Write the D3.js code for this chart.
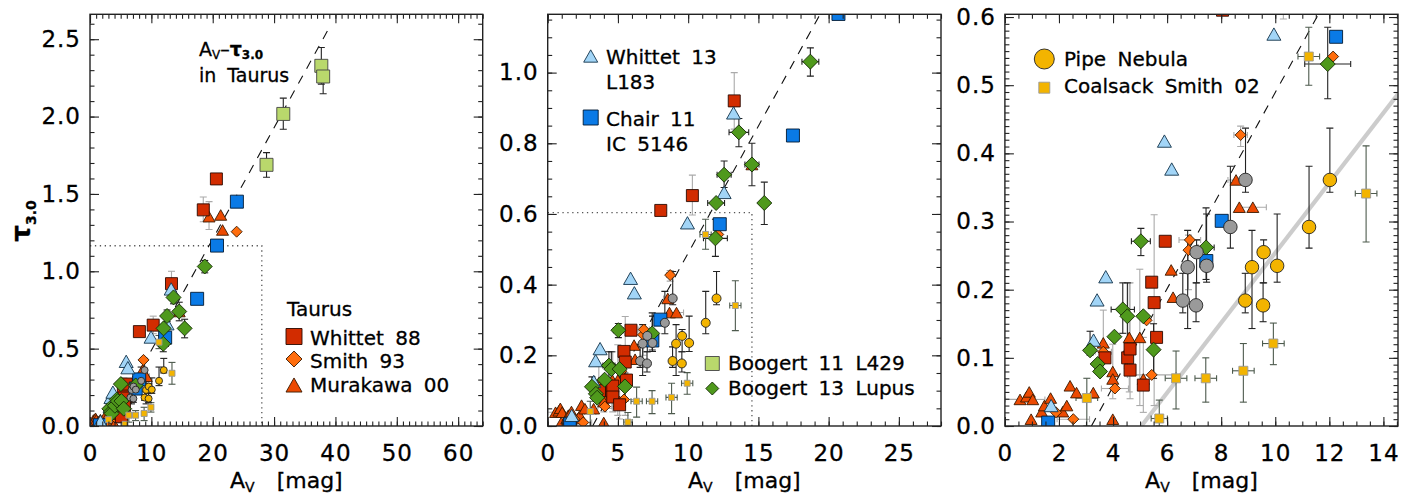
<!DOCTYPE html>
<html><head><meta charset="utf-8">
<script src="https://cdn.jsdelivr.net/npm/d3@7"></script>
<style>
body{margin:0;background:#fff}
text{font-family:'DejaVu Sans',sans-serif;fill:#000;stroke:#000;stroke-width:0.3px}
</style>
</head><body>
<svg id="c" width="1413" height="499"></svg>
<script>
// ---------------- DATA: rows are [Av, tau, tauLow, tauHigh, AvErr] ----------------
const whittet88 = [
  [3.70,0.100],[4.54,0.100],[4.63,0.113,0.04,0.21],[4.63,0.082],[5.12,0.060,0.02,0.13],
  [5.43,0.211],[5.52,0.181,0.03,0.31],[5.61,0.130],[5.93,0.271],[8.05,0.610],
  [10.30,0.652,0.597,0.710],[13.28,0.920,0.840,1.000],[18.46,1.397,1.320,1.480],[20.60,1.597]
];
const smith93 = [
  [1.89,0.020],[2.53,0.010,null,null,0.6],[3.64,0.109,null,null,0.3],[4.07,0.055,null,null,0.5],
  [5.24,0.155],[5.43,0.075,null,null,0.9],[6.79,0.258,0.20,0.28],[6.84,0.273,null,null,0.4],
  [8.72,0.427,0.41,0.44,0.25],[12.14,0.542],[23.90,1.256]
];
const murakawa00 = [
  [0.56,0.039,null,null,0.55],[0.80,0.043],[0.90,0.050],[1.03,0.039,null,null,0.45],[0.97,0.010],
  [1.36,0.021],[1.46,0.030],[1.69,0.041],[2.14,0.021],[2.29,0.030],[2.41,0.059],[2.65,0.049],
  [3.27,0.049],[3.99,0.010],[3.99,0.080,0.04,0.12],[3.99,0.069],[3.64,0.122,0.08,0.17],
  [4.60,0.130,0.05,0.21],[4.99,0.130,0.03,0.23],[4.57,0.114],[5.12,0.069],[6.15,0.229],[6.22,0.189],
  [8.55,0.361,null,null,0.3],[8.67,0.321],[9.17,0.321,null,null,0.5],[14.54,0.740],
  [19.40,1.353,1.27,1.45],[21.30,1.364],[21.60,1.267]
];
const whittet13 = [
  [1.71,0.030],[3.28,0.126],[3.41,0.185],[3.73,0.219],[5.90,0.418],[6.17,0.377],
  [9.95,0.575],[12.56,0.661],[13.23,0.886]
];
const chiar11 = [
  [1.60,0.005],[7.45,0.242],[8.02,0.301],[12.25,0.571],[17.46,0.822],[20.70,1.166],[23.94,1.450]
];
const boogert11 = [
  [28.77,1.688,1.608,1.767],[31.50,2.017,1.918,2.119],[37.70,2.328,2.21,2.446],[38.00,2.259,2.147,2.35]
];
const boogert13 = [
  [3.15,0.111,0.104,0.139],[3.43,0.091],[3.52,0.080],[4.05,0.131],[4.36,0.171,0.136,0.21,0.43],
  [4.53,0.161,0.085,0.21],[5.03,0.271,0.25,0.29,0.35],[5.12,0.161],[5.50,0.112,0.07,0.15],
  [7.44,0.262,0.215,0.32,0.3],[11.94,0.531,0.48,0.585,0.85],[11.99,0.631,null,null,0.6],
  [12.56,0.711,0.675,0.75,0.5],[13.61,0.831,0.79,0.87,0.7],[14.54,0.740,0.68,0.80,0.5],
  [15.42,0.631,0.57,0.69],[18.70,1.031,0.99,1.07,0.6]
];
const pipeNebula = [
  [8.89,0.184,0.166,0.224,0.2],[9.14,0.233,0.143,0.287,0.2],[9.55,0.177,0.153,0.21,0.2],
  [9.57,0.255,0.21,0.273,0.2],[10.07,0.235,0.211,0.311,0.2],[11.25,0.292,0.261,0.381,0.2],
  [12.02,0.361,0.343,0.437,0.2]
];
const pipeGray = [
  [6.58,0.184,0.166,0.224,0.2],[6.76,0.233,0.143,0.287,0.2],[7.07,0.177,0.153,0.21,0.2],
  [7.09,0.255,0.21,0.273,0.2],[7.46,0.235,0.211,0.311,0.2],[8.34,0.292,0.261,0.381,0.2],
  [8.90,0.361,0.343,0.437,0.2]
];
const coalsack02 = [
  [3.03,0.041,0.0,0.07,0.4],[5.71,0.011,0.0,0.038,0.3],[6.33,0.070,0.025,0.11,0.4],
  [7.43,0.070,0.035,0.10,0.4],[8.82,0.081,0.035,0.121,0.4],[9.93,0.121,0.09,0.151,0.4],
  [11.24,0.542,0.50,0.585,0.4],[13.36,0.341,0.27,0.411,0.4]
];
// relations
const taurusLine = [[3.2,0.0],[39.2,2.59]];
const pipeLine = [[5.05,0.0],[14.54,0.487]];
// zoom boxes
const box1 = [[0,1.165],[28,1.165],[28,0]];
const box2 = [[0,0.604],[14.54,0.604],[14.54,0]];
// tick labels
const p1XTicks = [0,10,20,30,40,50,60];
const p1YTicks = [0,0.5,1.0,1.5,2.0,2.5];
const p2XTicks = [0,5,10,15,20,25];
const p2YTicks = [0,0.2,0.4,0.6,0.8,1.0];
const p3XTicks = [0,2,4,6,8,10,12,14];
const p3YTicks = [0,0.1,0.2,0.3,0.4,0.5,0.6];

// ---------------- STYLE ----------------
const svg = d3.select('#c');
const TOP = 14.3, BOT = 426;
const FONT = "'DejaVu Sans',sans-serif";

const series = [
  {d:murakawa00, shape:'tri', fill:'#ec4a02', stroke:'#3a1a00', size:[12,12,12], err:'#aaaaaa'},
  {d:smith93, shape:'dia', fill:'#ff6d0d', stroke:'#3a1a00', size:[11,11,11], err:'#aaaaaa'},
  {d:whittet88, shape:'sq', fill:'#d22c00', stroke:'#2a0a00', size:[12,12,12], err:'#aaaaaa'},
  {d:chiar11, shape:'sq', fill:'#0a7ae6', stroke:'#001a33', size:[13,13,13], err:'#333333'},
  {d:whittet13, shape:'tri', fill:'#a2d5f7', stroke:'#12324a', size:[14,14,14], err:'#333333'},
  {d:boogert13, shape:'dia', fill:'#4f991c', stroke:'#142a05', size:[15,15,15], err:'#222222'},
  {d:boogert11, shape:'sq', fill:'#b9d86c', stroke:'#444444', size:[13,13,13], err:'#222222'},
  {d:coalsack02, shape:'sq', fill:'#f3b400', stroke:'#9a9a9a', size:[6,6,9], err:'#4d5a4d'},
  {d:pipeGray, shape:'circ', fill:'#9a9a9a', stroke:'#222222', size:[7,9,13.5], err:'#222222'},
  {d:pipeNebula, shape:'circ', fill:'#f3b400', stroke:'#222222', size:[7,9,13.5], err:'#222222'}
];

function markerPath(shape, s){
  const h = s/2;
  if(shape==='sq') return `M${-h},${-h}H${h}V${h}H${-h}Z`;
  if(shape==='dia') return `M0,${-h}L${h},0L0,${h}L${-h},0Z`;
  if(shape==='tri'){ const th = s*0.88; return `M0,${-th/2}L${h},${th/2}L${-h},${th/2}Z`; }
  if(shape==='circ') return `M${h},0A${h},${h} 0 1,1 ${-h},0A${h},${h} 0 1,1 ${h},0Z`;
}

const panels = [
  {left:90, right:482.7, xDom:[0,64], yDom:[0,2.661], xT:p1XTicks, yT:p1YTicks, xMin:1, yMin:0.1, yFmt:d3.format('.1f'), box:box1, pipe:false},
  {left:547.7, right:941, xDom:[0,28], yDom:[0,1.165], xT:p2XTicks, yT:p2YTicks, xMin:1, yMin:0.05, yFmt:d3.format('.1f'), box:box2, pipe:false},
  {left:1004.9, right:1398, xDom:[0,14.54], yDom:[0,0.604], xT:p3XTicks, yT:p3YTicks, xMin:0.5, yMin:0.01, yFmt:d3.format('.1f'), box:null, pipe:true}
];

const defs = svg.append('defs');

panels.forEach((P, pi) => {
  const x = d3.scaleLinear().domain(P.xDom).range([P.left, P.right]);
  const y = d3.scaleLinear().domain(P.yDom).range([BOT, TOP]);
  defs.append('clipPath').attr('id','clip'+pi).append('rect')
    .attr('x',P.left).attr('y',TOP).attr('width',P.right-P.left).attr('height',BOT-TOP);
  const g = svg.append('g');
  const pg = g.append('g').attr('clip-path',`url(#clip${pi})`);
  const line = d3.line().x(d=>x(d[0])).y(d=>y(d[1]));

  if(P.pipe){
    pg.append('path').attr('d',line(pipeLine)).attr('fill','none')
      .attr('stroke','#cccccc').attr('stroke-width',4.2);
  }
  if(P.box){
    pg.append('path').attr('d',line(P.box)).attr('fill','none')
      .attr('stroke','#555').attr('stroke-width',1.3).attr('stroke-dasharray','1.3,3.6');
  }
  pg.append('path').attr('d',line(taurusLine)).attr('fill','none')
    .attr('stroke','#111').attr('stroke-width',1.1).attr('stroke-dasharray','9,8');

  // error bars
  series.forEach(S => {
    const eg = pg.append('g').attr('stroke',S.err).attr('stroke-width',1.1).attr('fill','none');
    S.d.forEach(r => {
      const cx = x(r[0]), cy = y(r[1]);
      if(r[2]!=null && r[3]!=null){
        const y1 = y(r[2]), y2 = y(r[3]);
        eg.append('line').attr('x1',cx).attr('x2',cx).attr('y1',y1).attr('y2',y2);
        eg.append('line').attr('x1',cx-3.5).attr('x2',cx+3.5).attr('y1',y1).attr('y2',y1);
        eg.append('line').attr('x1',cx-3.5).attr('x2',cx+3.5).attr('y1',y2).attr('y2',y2);
      }
      if(r[4]!=null){
        const x1 = x(r[0]-r[4]), x2 = x(r[0]+r[4]);
        eg.append('line').attr('x1',x1).attr('x2',x2).attr('y1',cy).attr('y2',cy);
        eg.append('line').attr('x1',x1).attr('x2',x1).attr('y1',cy-3).attr('y2',cy+3);
        eg.append('line').attr('x1',x2).attr('x2',x2).attr('y1',cy-3).attr('y2',cy+3);
      }
    });
  });
  // markers
  series.forEach(S => {
    pg.append('g').selectAll('path').data(S.d).join('path')
      .attr('d', markerPath(S.shape, S.size[pi]))
      .attr('transform', r => `translate(${x(r[0])},${y(r[1])})`)
      .attr('fill', S.fill).attr('stroke', S.stroke).attr('stroke-width', 0.9);
  });

  // axes
  const xMinor = d3.range(P.xDom[0], P.xDom[1]+1e-9, P.xMin);
  const yMinor = d3.range(P.yDom[0], P.yDom[1]+1e-9, P.yMin);
  const styleAx = a => { a.select('.domain').remove(); a.selectAll('line').attr('stroke','#222').attr('stroke-width',1.1); };
  const styleTx = a => a.selectAll('text').attr('font-family',FONT).attr('font-size',23)
      .attr('letter-spacing',1).attr('fill','#000');
  [['b',BOT],['t',TOP]].forEach(([side,pos])=>{
    const mk = side==='b'?d3.axisBottom:d3.axisTop;
    g.append('g').attr('transform',`translate(0,${pos})`)
      .call(mk(x).tickValues(xMinor).tickSize(-4.5).tickFormat('')).call(styleAx);
    g.append('g').attr('transform',`translate(0,${pos})`)
      .call(mk(x).tickValues(P.xT).tickSize(-9).tickPadding(19).tickFormat(side==='b'?d3.format('d'):''))
      .call(styleAx).call(styleTx);
  });
  [['l',P.left],['r',P.right]].forEach(([side,pos])=>{
    const mk = side==='l'?d3.axisLeft:d3.axisRight;
    g.append('g').attr('transform',`translate(${pos},0)`)
      .call(mk(y).tickValues(yMinor).tickSize(-4.5).tickFormat('')).call(styleAx);
    g.append('g').attr('transform',`translate(${pos},0)`)
      .call(mk(y).tickValues(P.yT).tickSize(-9).tickPadding(9).tickFormat(side==='l'?P.yFmt:''))
      .call(styleAx).call(styleTx);
  });
  g.append('rect').attr('x',P.left).attr('y',TOP).attr('width',P.right-P.left).attr('height',BOT-TOP)
    .attr('fill','none').attr('stroke','#222').attr('stroke-width',1.4);

  // x label
  const cx = (P.left+P.right)/2;
  const xl = g.append('text').attr('x',cx).attr('y',488).attr('text-anchor','middle').attr('font-size',22);
  xl.append('tspan').text('A');
  xl.append('tspan').attr('font-size',14).attr('dy',4).text('V');
  xl.append('tspan').attr('dy',-4).attr('dx',22).text('[mag]');
});

// y label (panel 1)
const yl = svg.append('text').attr('transform','translate(30,221) rotate(-90)')
  .attr('text-anchor','middle').attr('font-weight','bold').attr('font-size',26);
yl.append('tspan').text('τ');
yl.append('tspan').attr('font-size',14).attr('dy',6).text('3.0');

// ---------------- LEGENDS / ANNOTATIONS ----------------
function legMarker(shape, s, fill, stroke, cx, cy){
  svg.append('path').attr('d',markerPath(shape,s)).attr('transform',`translate(${cx},${cy})`)
    .attr('fill',fill).attr('stroke',stroke).attr('stroke-width',0.9);
}
function legText(str, xx, yy, fs){
  return svg.append('text').attr('x',xx).attr('y',yy).attr('font-size',fs||20)
    .attr('word-spacing',5).text(str);
}
// panel 1 annotation
const an = svg.append('text').attr('x',199).attr('y',56).attr('font-size',19);
an.append('tspan').text('A');
an.append('tspan').attr('font-size',12).attr('dy',3).text('V');
an.append('tspan').attr('dy',-3).text('–');
an.append('tspan').attr('font-weight','bold').text('τ');
an.append('tspan').attr('font-size',12).attr('font-weight','bold').attr('dy',3).text('3.0');
legText('in Taurus',199,82,19);

legText('Taurus',287,316);
legMarker('sq',16,'#d22c00','#2a0a00',294,336.5); legText('Whittet 88',310,345);
legMarker('dia',16,'#ff6d0d','#3a1a00',294,359);  legText('Smith 93',310,368);
legMarker('tri',16,'#ec4a02','#3a1a00',294,385);  legText('Murakawa 00',310,392);

// panel 2
legMarker('tri',14,'#a2d5f7','#12324a',590.7,56); legText('Whittet 13',606,64); legText('L183',606,89);
legMarker('sq',15,'#0a7ae6','#001a33',590.7,117.5); legText('Chair 11',606,126); legText('IC 5146',606,151);
legMarker('sq',14,'#b9d86c','#444444',712.3,363.5); legText('Boogert 11 L429',728,370);
legMarker('dia',13,'#4f991c','#142a05',712.3,388.5); legText('Boogert 13 Lupus',728,395);

// panel 3
legMarker('circ',20,'#f3b400','#222222',1044.3,59); legText('Pipe Nebula',1064,65.5);
legMarker('sq',11,'#f3b400','#9a9a9a',1044.3,87.7); legText('Coalsack Smith 02',1064,93);
</script>
</body></html>
